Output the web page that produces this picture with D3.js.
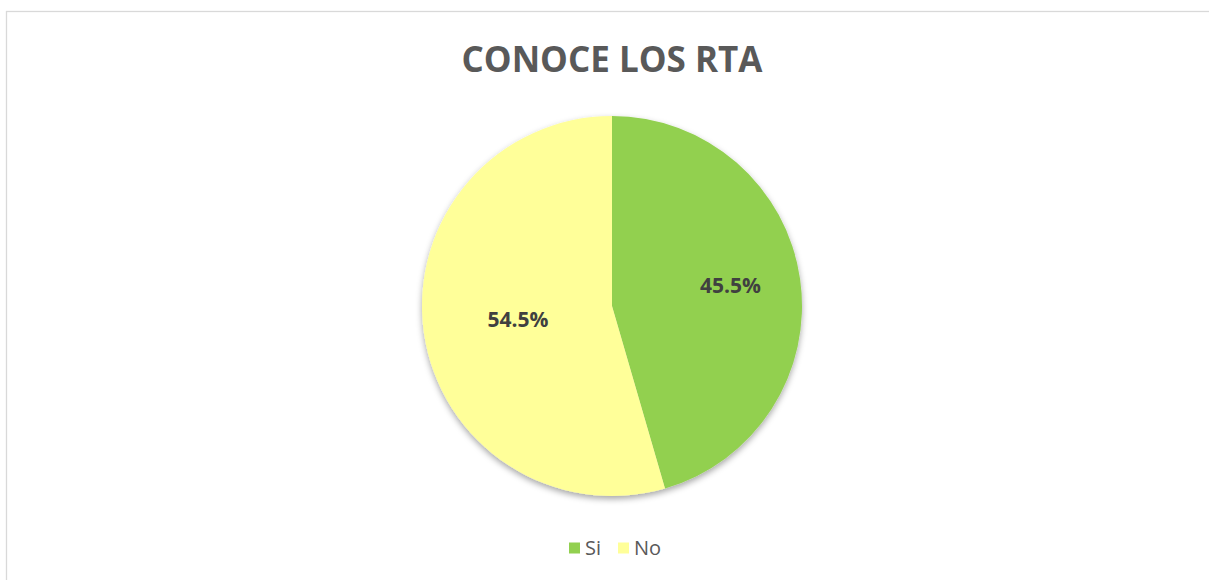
<!DOCTYPE html>
<html>
<head>
<meta charset="utf-8">
<script src="https://cdn.jsdelivr.net/npm/d3@7"></script>
<style>
  body { margin: 0; background: #fff; }
  svg { display: block; }
</style>
</head>
<body>
<svg id="chart" width="1209" height="580"></svg>
<script>
(function() {
  // chart data
  const categories = ["Si", "No"];
  const values = [45.5, 54.5];
  const colors = ["#92D050", "#FFFF99"];

  const svg = d3.select("#chart"),
        width = +svg.attr("width"),
        height = +svg.attr("height");

  // outer chart border (runs off right/bottom edge)
  svg.append("rect")
    .attr("x", 6.5).attr("y", 11.5)
    .attr("width", width + 10).attr("height", height + 10)
    .attr("fill", "none")
    .attr("stroke", "#d9d9d9")
    .attr("stroke-width", 1.3);

  const defs = svg.append("defs");
  const shadow = defs.append("filter")
    .attr("id", "pie-shadow")
    .attr("x", "-20%").attr("y", "-20%")
    .attr("width", "140%").attr("height", "140%");
  shadow.append("feDropShadow")
    .attr("dx", 0).attr("dy", 3)
    .attr("stdDeviation", 3)
    .attr("flood-color", "#000")
    .attr("flood-opacity", 0.35);

  // title
  svg.append("text")
    .attr("x", 612).attr("y", 72)
    .attr("text-anchor", "middle")
    .style("font-family", "'Open Sans', sans-serif")
    .style("font-weight", "bold")
    .style("font-size", "35px")
    .attr("fill", "#595959")
    .text("CONOCE LOS RTA");

  const cx = 612, cy = 306, radius = 190;
  const labelPos = [0.63, 0.5]; // best-fit label distances

  const pie = d3.pie().sort(null).value(d => d);
  const arcs = pie(values);
  const arc = d3.arc().innerRadius(0).outerRadius(radius);

  const g = svg.append("g").attr("transform", `translate(${cx},${cy})`);

  g.append("g")
    .attr("filter", "url(#pie-shadow)")
    .selectAll("path")
    .data(arcs)
    .enter()
    .append("path")
    .attr("d", arc)
    .attr("fill", (d, i) => colors[i]);

  g.selectAll("text.label")
    .data(arcs)
    .enter()
    .append("text")
    .attr("class", "label")
    .attr("transform", (d, i) => {
      const r = radius * labelPos[i];
      const c = d3.arc().innerRadius(r).outerRadius(r).centroid(d);
      return `translate(${c[0]},${c[1] - (i === 0 ? 3 : 0)})`;
    })
    .attr("text-anchor", "middle")
    .attr("dy", "0.35em")
    .style("font-family", "'Open Sans', sans-serif")
    .style("font-weight", "bold")
    .style("font-size", "21px")
    .attr("fill", "#404040")
    .text(d => d.data.toFixed(1) + "%");

  // legend
  const legend = svg.append("g").attr("transform", "translate(569,548)");
  const offsets = [0, 49];
  const item = legend.selectAll("g")
    .data(categories)
    .enter()
    .append("g")
    .attr("transform", (d, i) => `translate(${offsets[i]},0)`);
  item.append("rect")
    .attr("x", 0).attr("y", -5.5)
    .attr("width", 11).attr("height", 11)
    .attr("fill", (d, i) => colors[i]);
  item.append("text")
    .attr("x", 16).attr("y", 0)
    .attr("dy", "0.35em")
    .style("font-family", "'Open Sans', sans-serif")
    .style("font-size", "20px")
    .attr("fill", "#595959")
    .text(d => d);
})();
</script>
</body>
</html>
